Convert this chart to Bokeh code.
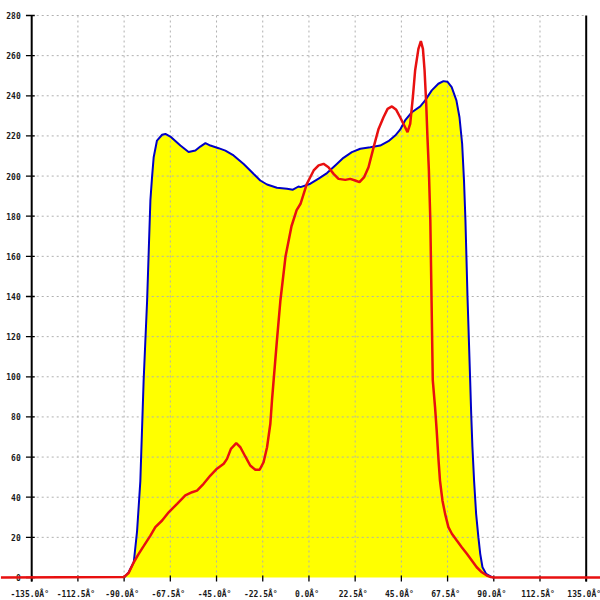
from bokeh.plotting import figure
from bokeh.embed import file_html
from bokeh.resources import INLINE
from bokeh.core.properties import value

# ---- data ----
blue_x = [-90.0, -87.8, -85.3, -83.7, -82.1, -80.5, -78.8, -78.0, -77.2, -76.4, -75.6, -74.0,
          -71.5, -69.9, -67.5, -62.6, -58.6, -55.3, -52.9, -50.4, -48.0, -44.0, -40.7, -36.7,
          -31.8, -26.9, -23.7, -20.4, -15.6, -10.7, -7.8, -5.1, -4.1, 0.7, 4.7, 8.8, 12.8,
          16.8, 20.9, 25.0, 29.9, 34.7, 38.7, 42.0, 44.4, 46.8, 50.1, 54.2, 56.6, 59.8, 63.0,
          65.5, 67.4, 69.5, 71.8, 73.3, 74.6, 75.5, 76.2, 77.2, 78.5, 79.0, 79.6, 80.4, 81.4,
          82.5, 83.4, 84.5, 86.3, 89.0, 90.0]
blue_y = [0.0, 2.6, 7.6, 23.0, 48.0, 98.0, 138.0, 163.0, 188.0, 199.5, 209.4, 217.7,
          220.6, 221.0, 219.7, 215.2, 212.0, 212.7, 214.7, 216.4, 215.2, 213.9, 212.7, 210.3,
          206.0, 201.0, 197.8, 195.8, 194.2, 193.7, 193.2, 194.8, 194.5, 196.2, 198.7, 201.5, 205.3,
          209.1, 211.9, 213.6, 214.4, 215.2, 217.4, 220.2, 223.1, 227.7, 231.8, 234.7, 237.7, 242.7, 246.0,
          247.3, 247.0, 244.3, 237.7, 229.3, 216.0, 197.8, 177.9, 140.0, 98.2, 81.6, 65.0, 48.3, 31.7,
          20.1, 11.8, 5.1, 1.8, 0.2, 0.0]

red_x = [-150.0, -90.2, -87.8, -85.3, -82.9, -80.5, -77.2, -74.8, -71.5, -68.3, -64.2, -60.2,
         -56.9, -54.5, -51.3, -48.0, -44.8, -41.5, -39.9, -38.0, -35.4, -33.4, -31.0, -28.6,
         -26.1, -24.0, -22.1, -20.4, -18.8, -18.0, -17.2, -15.6, -13.9, -11.4, -8.5, -6.0, -4.1,
         -1.0, 2.3, 4.7, 7.1, 9.5, 12.0, 14.4, 17.7, 20.1, 22.5, 24.6, 26.9, 29.0, 31.5, 33.9,
         36.3, 38.3, 40.4, 42.5, 44.4, 46.4, 48.0, 49.3, 50.6, 51.7, 53.3, 54.5, 55.5, 56.3,
         57.1, 57.7, 58.4, 59.1, 59.7, 60.3, 61.4, 62.2, 63.0, 63.8, 65.0, 66.3, 67.9, 69.6,
         72.0, 74.4, 76.9, 79.3, 81.7, 84.2, 86.6, 88.6, 90.0, 150.0]
red_y = [0.0, 0.2, 2.2, 7.6, 11.8, 15.6, 20.9, 25.1, 28.4, 32.5, 36.7, 40.9,
         42.5, 43.3, 46.7, 50.8, 54.2, 56.7, 59.1, 64.1, 66.9, 64.9, 60.3, 55.8,
         53.7, 53.7, 57.4, 64.9, 76.6, 88.2, 98.2, 118.0, 138.0, 160.0, 175.0, 183.0, 186.2,
         196.2, 202.8, 205.3, 206.1, 204.4, 201.1, 198.6, 198.1, 198.6, 197.8, 197.0, 199.5, 204.4, 214.4, 223.5,
         229.3, 233.5, 234.7, 233.0, 229.3, 225.2, 221.9, 226.0, 239.3, 252.6, 263.4, 267.2, 263.4, 252.6,
         236.0, 219.4, 202.8, 177.9, 138.0, 98.2, 84.9, 73.2, 59.9, 48.3, 38.4, 31.7, 25.1, 21.8,
         18.4, 15.1, 11.8, 8.5, 5.1, 2.6, 1.0, 0.2, 0.0, 0.0]

x_ticks = [-135.0, -112.5, -90.0, -67.5, -45.0, -22.5, 0.0, 22.5, 45.0, 67.5, 90.0, 112.5, 135.0]
x_tick_labels = ["-135.0\u00c2\u00b0", "-112.5\u00c2\u00b0", "-90.0\u00c2\u00b0", "-67.5\u00c2\u00b0",
                 "-45.0\u00c2\u00b0", "-22.5\u00c2\u00b0", "0.0\u00c2\u00b0", "22.5\u00c2\u00b0",
                 "45.0\u00c2\u00b0", "67.5\u00c2\u00b0", "90.0\u00c2\u00b0", "112.5\u00c2\u00b0",
                 "135.0\u00c2\u00b0"]
y_ticks = [0, 20, 40, 60, 80, 100, 120, 140, 160, 180, 200, 220, 240, 260, 280]
y_tick_labels = [str(v) for v in y_ticks]

X_MIN, X_MAX = -135.0, 135.0
Y_MIN, Y_MAX = 0.0, 280.0

# ---- figure: frame covers the whole canvas ----
W = H = 600
sx = 554.5 / (X_MAX - X_MIN)
sy = 562.0 / (Y_MAX - Y_MIN)
x_start = X_MIN - 31.2 / sx
x_end = x_start + W / sx
y_end = Y_MAX + 15.0 / sy
y_start = y_end - H / sy

p = figure(width=W, height=H, x_range=(x_start, x_end), y_range=(y_start, y_end),
           output_backend="svg", toolbar_location=None,
           x_axis_location=None, y_axis_location=None, min_border=0)
p.outline_line_color = None
p.grid.visible = False
p.background_fill_color = "white"
p.border_fill_color = "white"

# filled area
p.varea(x=blue_x, y1=0, y2=blue_y, fill_color="#ffff00", fill_alpha=1.0)

# dotted grid
gx = [t for t in x_ticks if X_MIN < t < X_MAX]
p.segment(x0=gx, y0=Y_MIN, x1=gx, y1=Y_MAX, line_color="#b0b0b0", line_width=1, line_dash="2 3")
gy = [t for t in y_ticks if t > Y_MIN]
p.segment(x0=X_MIN, y0=gy, x1=X_MAX, y1=gy, line_color="#b0b0b0", line_width=1, line_dash="2 3")

# axis lines
p.segment(x0=[X_MIN, X_MAX], y0=Y_MIN - 2, x1=[X_MIN, X_MAX], y1=Y_MAX, line_color="black", line_width=2)
# y ticks
p.segment(x0=X_MIN - 2.8, y0=y_ticks, x1=X_MIN + 1.5, y1=y_ticks, line_color="black", line_width=1.3)
# x ticks
p.segment(x0=x_ticks, y0=Y_MIN + 1, x1=x_ticks, y1=Y_MIN - 2, line_color="black", line_width=1.3)

font = value("DejaVu Sans Mono")
p.text(x=X_MIN, y=y_ticks, text=y_tick_labels, text_font=font, text_font_size="8px",
       text_font_style="bold", text_align="right", text_baseline="middle",
       x_offset=-11, text_color="#1a1a1a")
p.text(x=x_ticks, y=Y_MIN, text=x_tick_labels, text_font=font, text_font_size="8px",
       text_font_style="bold", text_align="center", text_baseline="alphabetic",
       x_offset=-2, y_offset=17, text_color="#1a1a1a")

# series
p.line(blue_x, blue_y, line_color="#0000c8", line_width=2)
p.line(red_x, red_y, line_color="#e81010", line_width=2.5)

open("out.html", "w", encoding="utf-8").write(file_html(p, INLINE))
